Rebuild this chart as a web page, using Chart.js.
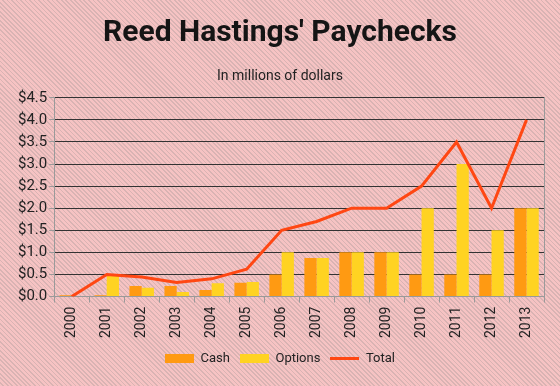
<!DOCTYPE html>
<html>
<head>
<meta charset="utf-8">
<script src="https://cdn.jsdelivr.net/npm/chart.js@4"></script>
<style>
    html, body { margin: 0; padding: 0; }
    body {
        width: 560px; height: 386px; overflow: hidden;
        background: repeating-linear-gradient(45deg, #f6c3c3 0px, #f6c3c3 2px, #d9b3b3 2px, #d9b3b3 3.2px);
    }
    #wrap { width: 560px; height: 386px; }
</style>
</head>
<body>
<div id="wrap"><canvas id="paychecks"></canvas></div>
<script>
const years = ['2000', '2001', '2002', '2003', '2004', '2005', '2006', '2007', '2008', '2009', '2010', '2011', '2012', '2013'];
const cash = [0.03, 0.03, 0.24, 0.24, 0.15, 0.31, 0.5, 0.87, 1.0, 1.0, 0.5, 0.5, 0.5, 2.0];
const options = [0, 0.48, 0.2, 0.1, 0.3, 0.33, 1.0, 0.87, 1.0, 1.0, 2.0, 3.0, 1.5, 2.0];
const total = [0, 0.5, 0.44, 0.32, 0.4, 0.62, 1.5, 1.7, 2.0, 2.0, 2.5, 3.5, 2.0, 4.0];

const font = 'Roboto, "Liberation Sans", sans-serif';
const axisGray = '#9a9a9a';
const cashColor = '#ff9a12';
const optionsColor = '#ffd322';
const totalColor = '#ff4713';

// small legend swatches: filled boxes for bars, a thick stroke for the line
const swatch = (color, h) => {
    const c = document.createElement('canvas');
    c.width = 29; c.height = h;
    const g = c.getContext('2d');
    g.fillStyle = color;
    g.fillRect(0, 0, 29, h);
    return c;
};

const ctx = document.getElementById('paychecks');
new Chart(ctx, {
    data: {
        labels: years,
        datasets: [
            { type: 'line', label: 'Total', data: total, borderColor: totalColor, backgroundColor: totalColor,
              borderWidth: 3, pointRadius: 0, tension: 0, order: 0, pointStyle: swatch(totalColor, 3) },
            { type: 'bar', label: 'Cash', data: cash, backgroundColor: cashColor, order: 1, pointStyle: swatch(cashColor, 9) },
            { type: 'bar', label: 'Options', data: options, backgroundColor: optionsColor, order: 1, pointStyle: swatch(optionsColor, 9) },
        ],
    },
    options: {
        responsive: true,
        maintainAspectRatio: false,
        animation: false,
        layout: { padding: { left: 16, right: 16, top: 6, bottom: 11 } },
        datasets: { bar: { barPercentage: 1, categoryPercentage: 0.7 } },
        plugins: {
            title: {
                display: true, text: "Reed Hastings' Paychecks", color: '#151515',
                font: { family: font, size: 30, weight: 'bold' }, padding: { top: 9, bottom: 17 },
            },
            subtitle: {
                display: true, text: 'In millions of dollars', color: '#222',
                font: { family: font, size: 14 }, padding: { bottom: 13 },
            },
            legend: {
                position: 'bottom',
                labels: {
                    color: '#222', font: { family: font, size: 13 },
                    usePointStyle: true, pointStyleWidth: 29, padding: 10,
                    sort: (a, b) => ['Cash', 'Options', 'Total'].indexOf(a.text) - ['Cash', 'Options', 'Total'].indexOf(b.text),
                },
            },
            tooltip: { enabled: false },
        },
        scales: {
            x: {
                grid: { drawOnChartArea: false, drawTicks: true, tickLength: 6, tickColor: axisGray, offset: true },
                border: { color: axisGray, width: 1 },
                ticks: { color: '#222', font: { family: font, size: 14 }, minRotation: 90, maxRotation: 90, padding: 4 },
            },
            y: {
                min: 0, max: 4.5,
                grid: { color: (c) => (c.index === 0 ? axisGray : '#333'), tickColor: axisGray, tickLength: 5 },
                border: { color: axisGray },
                ticks: {
                    stepSize: 0.5, color: '#222', font: { family: font, size: 15 }, padding: 2,
                    callback: (v) => '$' + Number(v).toFixed(1),
                },
            },
            y2: {
                position: 'right', min: 0, max: 4.5,
                grid: { drawOnChartArea: false, drawTicks: false },
                border: { color: axisGray },
                ticks: { display: false },
            },
        },
    },
});
</script>
</body>
</html>
